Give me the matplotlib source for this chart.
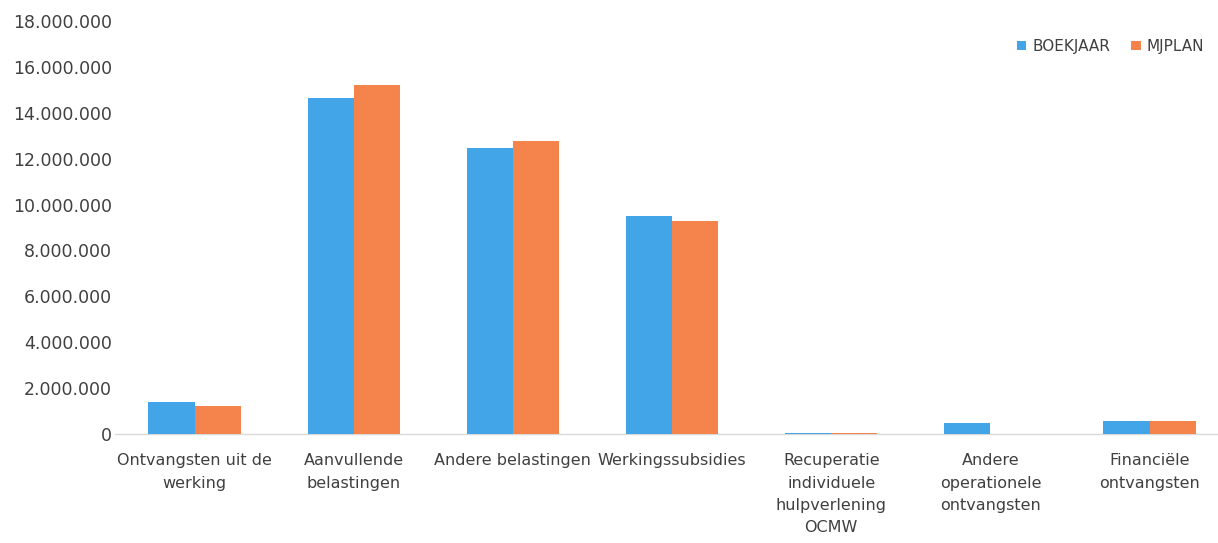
import matplotlib
matplotlib.use("Agg")
import matplotlib.pyplot as plt
from matplotlib.ticker import FuncFormatter, MultipleLocator
import numpy as np

categories = [
    "Ontvangsten uit de\nwerking",
    "Aanvullende\nbelastingen",
    "Andere belastingen",
    "Werkingssubsidies",
    "Recuperatie\nindividuele\nhulpverlening\nOCMW",
    "Andere\noperationele\nontvangsten",
    "Financiële\nontvangsten",
]
boekjaar = [1400000, 14650000, 12450000, 9520000, 60000, 480000, 550000]
mjplan = [1220000, 15200000, 12750000, 9300000, 50000, 0, 550000]
series_names = ["BOEKJAAR", "MJPLAN"]

W, H = 1218, 543
fig = plt.figure(figsize=(W / 100, H / 100), dpi=100)
ax = fig.add_axes([115 / W, 1 - 434 / H, (W - 115) / W, (434 - 21) / H])

x = np.arange(len(categories))
bw = 0.29
blue = "#41A5E8"
orange = "#F4834C"
ax.bar(x - bw / 2, boekjaar, width=bw, color=blue, label=series_names[0], zorder=3)
ax.bar(x + bw / 2, mjplan, width=bw, color=orange, label=series_names[1], zorder=3)

ax.set_ylim(0, 18000000)
ax.set_xlim(-0.5, 6.43)
ax.yaxis.set_major_locator(MultipleLocator(2000000))
ax.yaxis.set_major_formatter(FuncFormatter(lambda v, p: f"{int(v):,}".replace(",", ".")))
for s in ["top", "right", "left"]:
    ax.spines[s].set_visible(False)
ax.spines["bottom"].set_color("#D9D9D9")
ax.spines["bottom"].set_linewidth(1.0)
ax.tick_params(axis="y", length=0, labelsize=12.5, labelcolor="#404040", pad=2)
ax.tick_params(axis="x", length=0, labelsize=11.5, labelcolor="#404040", pad=14)
ax.set_xticks(x)
ax.set_xticklabels(categories, linespacing=1.6)

ax.legend(loc="upper right", bbox_to_anchor=(1.0, 0.99), ncol=2, frameon=False,
          fontsize=11, handlelength=0.6, handleheight=0.6, handletextpad=0.4,
          columnspacing=1.4, labelcolor="#404040")

fig.savefig("out.png", dpi=100)
